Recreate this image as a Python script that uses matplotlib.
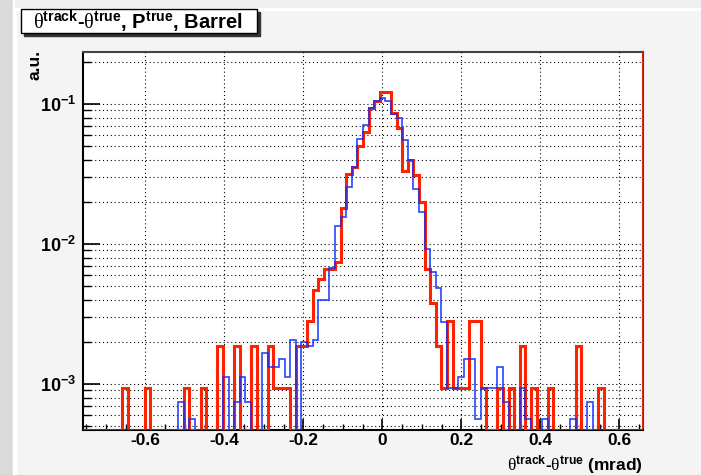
import numpy as np
import matplotlib.pyplot as plt
from matplotlib.patches import Rectangle
from matplotlib.ticker import FixedLocator, MultipleLocator, FuncFormatter, NullFormatter

plt.rcParams['font.family'] = 'Liberation Sans'
plt.rcParams['mathtext.fontset'] = 'custom'
plt.rcParams['mathtext.rm'] = 'Liberation Serif'
plt.rcParams['mathtext.bf'] = 'Liberation Sans:bold'
plt.rcParams['mathtext.it'] = 'Liberation Sans:italic'
plt.rcParams['axes.unicode_minus'] = False

# ヒストグラムの範囲 (mrad)、100ビン
x_min, x_max = -0.758, 0.660
n_bins = 100

# 赤 (a.u.)
red = [0, 0, 0, 0, 0, 0, 0, 0.00094, 0, 0,
       0, 0.00094, 0, 0, 0, 0, 0, 0, 0.00094, 0,
       0, 0.00094, 0, 0, 0.00188, 0, 0, 0.00188, 0, 0,
       0.00188, 0, 0, 0.00188, 0.00094, 0.00094, 0.00094, 0, 0.00188, 0.00188,
       0.00282, 0.0047, 0.00564, 0.0066, 0.0066, 0.0075, 0.018, 0.0315, 0.0357, 0.0501,
       0.0634, 0.0932, 0.105, 0.1225, 0.1225, 0.0858, 0.0677, 0.0332, 0.0395, 0.0313,
       0.0199, 0.0066, 0.00377, 0.00188, 0.00094, 0.00282, 0.00094, 0.00094, 0.00094, 0.00282,
       0.00282, 0.00094, 0, 0, 0.00094, 0, 0.00094, 0, 0.00188, 0,
       0.00094, 0, 0, 0.00094, 0, 0, 0, 0, 0.00188, 0,
       0, 0, 0.00094, 0, 0, 0, 0, 0, 0, 0]

# 青 (a.u.)
blue = [0, 0, 0, 0, 0, 0, 0, 0, 0, 0,
        0, 0, 0, 0, 0, 0, 0, 0.00075, 0, 0.00056,
        0, 0, 0, 0, 0, 0.00113, 0, 0.00075, 0.00113, 0.00075,
        0, 0, 0.00168, 0.00132, 0.00132, 0.00151, 0.00113, 0.00206, 0, 0.0020,
        0.00188, 0.00206, 0.0040, 0.0040, 0.0067, 0.0135, 0.0157, 0.0257, 0.0357, 0.0562,
        0.0708, 0.0932, 0.105, 0.110, 0.105, 0.0844, 0.079, 0.0553, 0.0398, 0.0247,
        0.017, 0.00915, 0.00636, 0.00489, 0.00279, 0.00093, 0.00093, 0.00113, 0.0015, 0.0015,
        0.00056, 0.00093, 0.00093, 0.00093, 0.00133, 0.00075, 0, 0, 0.00093, 0.00056,
        0, 0, 0.00056, 0, 0, 0, 0, 0.00056, 0, 0,
        0.00075, 0, 0, 0, 0, 0, 0, 0, 0, 0]

x_ticks = [-0.6, -0.4, -0.2, 0, 0.2, 0.4, 0.6]
x_ticklabels = ['-0.6', '-0.4', '-0.2', '0', '0.2', '0.4', '0.6']
y_min, y_max = 4.7e-4, 0.235

edges = np.linspace(x_min, x_max, n_bins + 1)

fig = plt.figure(figsize=(7.01, 4.75), dpi=100, facecolor='#f4f4f4')

# 背景 (ウィンドウ風)
fig.patches.append(Rectangle((0, 0), 13 / 701, 1, transform=fig.transFigure,
                             color='#dadada', zorder=-5))
fig.patches.append(Rectangle((13 / 701, 0), 2.5 / 701, 1, transform=fig.transFigure,
                             color='white', zorder=-4))
fig.patches.append(Rectangle((15 / 701, 1 - 8 / 475), 1, 8 / 475, transform=fig.transFigure,
                             color='#f0f0f0', zorder=-4))
fig.patches.append(Rectangle((15 / 701, 1 - 9.5 / 475), 1, 1.5 / 475, transform=fig.transFigure,
                             color='white', zorder=-4))

ax = fig.add_axes([83 / 701, 1 - 430 / 475, 560 / 701, 378 / 475])
ax.set_facecolor('white')

ax.stairs(np.maximum(red, y_min), edges, baseline=None, color='#ff2200', lw=2.2, zorder=3)
ax.stairs(np.maximum(blue, y_min), edges, baseline=None, color='#1030ff', lw=1.2, alpha=0.9, zorder=4)
ax.axvline(edges[-1], color='#ff2200', lw=1.2, zorder=3)

ax.set_yscale('log')
ax.set_xlim(x_min, x_max)
ax.set_ylim(y_min, y_max)

ax.xaxis.set_major_locator(FixedLocator(x_ticks))
ax.set_xticklabels(x_ticklabels)
ax.xaxis.set_minor_locator(MultipleLocator(0.05))
ax.yaxis.set_major_locator(FixedLocator([1e-3, 1e-2, 1e-1]))
ax.yaxis.set_minor_locator(FixedLocator([m * 10.0 ** e for e in (-4, -3, -2, -1) for m in range(2, 10)]))
ax.yaxis.set_major_formatter(FuncFormatter(lambda v, p: r'$\mathbf{10^{%d}}$' % round(np.log10(v))))
ax.yaxis.set_minor_formatter(NullFormatter())

ax.tick_params(axis='both', which='both', direction='in', top=False, right=False, colors='black')
ax.tick_params(axis='y', which='major', length=12, width=1.2, labelsize=13, pad=5)
ax.tick_params(axis='y', which='minor', length=5.5, width=1.0)
ax.tick_params(axis='x', which='major', length=8, width=1.2, labelsize=12.5, pad=2.5)
ax.tick_params(axis='x', which='minor', length=4, width=1.0)
for lab in ax.get_xticklabels():
    lab.set_fontweight('bold')

ax.grid(True, axis='x', which='major', color='black', ls=(0, (1, 2.5)), lw=0.8)
ax.grid(True, axis='y', which='both', color='black', ls=(0, (1, 2.5)), lw=0.8)
ax.set_axisbelow(False)

for side in ['left', 'bottom']:
    ax.spines[side].set_linewidth(1.5)
    ax.spines[side].set_color('black')
for side in ['top', 'right']:
    ax.spines[side].set_linewidth(1.5)
    ax.spines[side].set_color('#444444')

# タイトルボックス
fig.patches.append(Rectangle((23.5 / 701, 1 - 36 / 475), 236 / 701, 24 / 475,
                             transform=fig.transFigure, color='#333333', zorder=1))
fig.patches.append(Rectangle((20.7 / 701, 1 - 33.3 / 475), 236 / 701, 24 / 475,
                             transform=fig.transFigure, facecolor='white',
                             edgecolor='black', lw=1.0, zorder=2))
fig.text(138 / 701, 1 - 21.5 / 475,
         r'$\mathrm{θ}^{\mathbf{track}}$-$\mathrm{θ}^{\mathbf{true}}$, P$^{\mathbf{true}}$, Barrel',
         ha='center', va='center', fontsize=14.5, fontweight='bold', zorder=3)

fig.text(643 / 701, 1 - 470 / 475,
         r'$\mathrm{θ}^{\mathbf{track}}$-$\mathrm{θ}^{\mathbf{true}}$ (mrad)',
         ha='right', va='baseline', fontsize=12.5, fontweight='bold')
fig.text(35 / 701, 1 - 50 / 475, 'a.u.', rotation=90, ha='center', va='top',
         fontsize=12.5, fontweight='bold')

plt.savefig('out.png', dpi=100, facecolor=fig.get_facecolor())
